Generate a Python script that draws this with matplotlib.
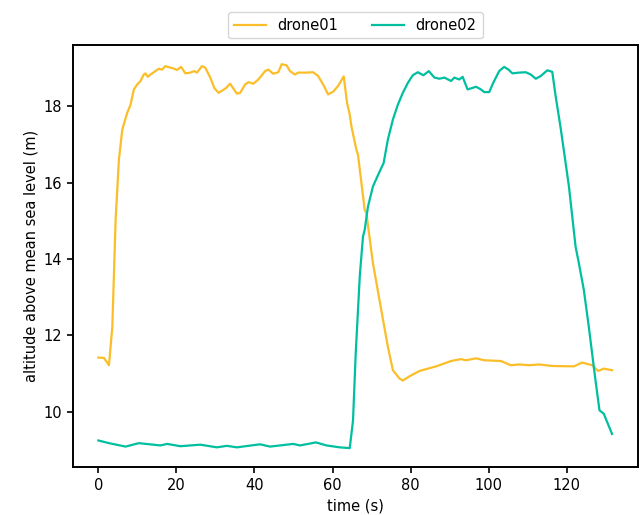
import matplotlib
matplotlib.use("Agg")
import matplotlib.pyplot as plt

# drone01 altitude trace (time in s, altitude in m)
t1 = [0.0, 1.43, 2.71, 3.57, 4.42, 5.26, 6.13, 7.40, 8.25, 9.09, 9.96, 10.80,
      11.64, 12.08, 12.66, 13.35, 14.63, 15.47, 16.34, 17.18, 18.46, 19.22,
      20.17, 21.19, 22.29, 23.56, 24.58, 25.27, 26.55, 27.39, 28.67, 29.69,
      30.79, 31.91, 32.75, 33.77, 34.62, 35.49, 36.33, 37.61, 38.45, 39.72,
      41.00, 41.87, 42.71, 43.55, 44.83, 46.11, 46.97, 48.25, 49.09, 50.37,
      51.21, 52.49, 53.36, 55.04, 56.32, 57.60, 58.87, 60.15, 61.42, 62.88,
      63.72, 64.41, 64.85, 66.12, 66.53, 68.24, 68.68, 70.36, 72.50, 74.19,
      75.47, 77.18, 78.02, 79.73, 82.28, 86.55, 90.37, 92.93, 94.20, 96.76,
      98.88, 103.14, 105.69, 107.81, 110.37, 112.92, 116.31, 121.86, 123.97,
      126.53, 128.06, 129.51, 131.63]
alt1 = [11.42, 11.41, 11.22, 12.22, 15.02, 16.60, 17.39, 17.83, 18.04, 18.44,
        18.57, 18.66, 18.83, 18.86, 18.77, 18.83, 18.92, 18.98, 18.96, 19.05,
        19.01, 18.99, 18.95, 19.03, 18.86, 18.88, 18.92, 18.88, 19.05, 19.01,
        18.75, 18.48, 18.35, 18.42, 18.48, 18.59, 18.46, 18.33, 18.35, 18.57,
        18.63, 18.59, 18.70, 18.81, 18.92, 18.96, 18.85, 18.89, 19.10, 19.07,
        18.92, 18.83, 18.88, 18.88, 18.88, 18.89, 18.79, 18.57, 18.31, 18.38,
        18.53, 18.78, 18.09, 17.78, 17.47, 16.86, 16.73, 15.29, 15.20, 13.89,
        12.66, 11.70, 11.09, 10.87, 10.82, 10.93, 11.07, 11.19, 11.33, 11.38,
        11.35, 11.40, 11.35, 11.33, 11.22, 11.24, 11.22, 11.24, 11.20, 11.19,
        11.29, 11.22, 11.07, 11.13, 11.09]

# drone02 altitude trace
t2 = [0.0, 2.71, 6.97, 10.37, 15.90, 17.62, 21.01, 26.12, 30.38, 32.93, 35.49,
      41.43, 43.99, 49.94, 51.64, 53.77, 55.73, 58.46, 61.86, 64.41, 65.25,
      65.94, 67.00, 67.81, 68.24, 69.08, 69.95, 70.36, 72.07, 73.09, 74.19,
      75.47, 76.74, 78.02, 79.30, 80.57, 81.85, 83.30, 84.66, 86.11, 87.39,
      88.67, 90.37, 91.22, 92.49, 93.34, 94.61, 95.89, 96.76, 98.03, 98.88,
      100.15, 101.17, 102.71, 103.98, 105.08, 106.10, 107.81, 109.52, 110.80,
      112.07, 113.35, 115.04, 116.31, 117.18, 118.46, 119.56, 120.58, 122.29,
      123.13, 124.40, 125.68, 127.39, 128.41, 129.51, 131.63]
alt2 = [9.25, 9.18, 9.09, 9.18, 9.12, 9.16, 9.10, 9.14, 9.07, 9.11, 9.07,
        9.15, 9.09, 9.16, 9.12, 9.16, 9.20, 9.12, 9.07, 9.05, 9.77,
        11.52, 13.58, 14.59, 14.76, 15.37, 15.73, 15.90, 16.29, 16.51, 17.13,
        17.65, 18.04, 18.35, 18.61, 18.81, 18.89, 18.81, 18.92, 18.75, 18.72,
        18.75, 18.66, 18.75, 18.70, 18.77, 18.44, 18.48, 18.51, 18.44, 18.37,
        18.37, 18.61, 18.92, 19.03, 18.96, 18.86, 18.88, 18.89, 18.83,
        18.72, 18.79, 18.94, 18.90, 18.26, 17.43, 16.64, 15.90, 14.32,
        13.89, 13.19, 12.22, 10.82, 10.04, 9.95, 9.42]

plt.rcParams["font.size"] = 10.5

fig = plt.figure(figsize=(6.41, 5.15), dpi=100)
ax = fig.add_axes([0.1134, 0.0926, 0.8815, 0.8200])

ax.plot(t1, alt1, color="#fbbe28", lw=1.6, label="drone01")
ax.plot(t2, alt2, color="#00bfa0", lw=1.6, label="drone02")

ax.set_xlabel("time (s)")
ax.set_ylabel("altitude above mean sea level (m)")
ax.set_xticks([0, 20, 40, 60, 80, 100, 120])
ax.set_yticks([10, 12, 14, 16, 18])

for s in ax.spines.values():
    s.set_linewidth(1.4)
ax.tick_params(width=1.2, length=4)

ax.legend(loc="lower center", bbox_to_anchor=(0.5, 1.0), ncol=2,
          handlelength=2.2, columnspacing=2.3, borderaxespad=0.45)

fig.savefig("out.png", dpi=100)
